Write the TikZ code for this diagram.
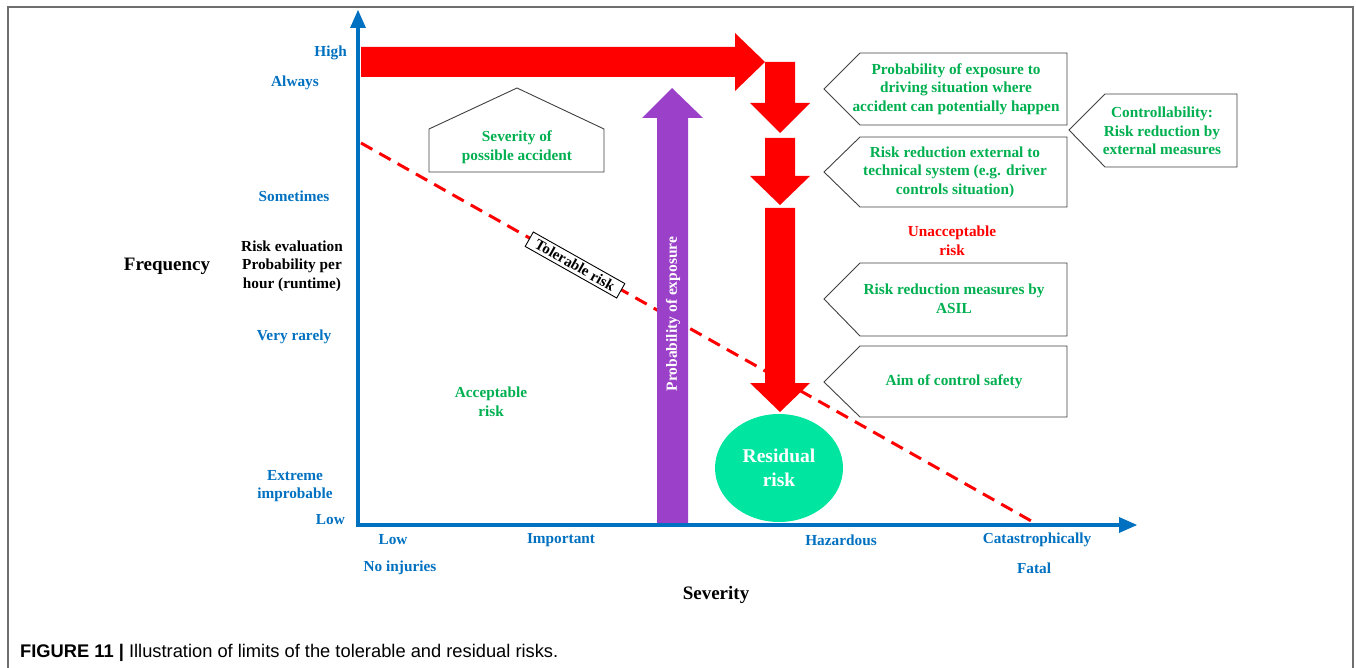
\documentclass[tikz,border=0pt]{standalone}
\usepackage{fontspec}
\usetikzlibrary{shapes.geometric}
\setmainfont{Liberation Serif}
\newfontfamily\capfont{Liberation Sans}
\definecolor{axblue}{RGB}{0,112,192}
\definecolor{tgreen}{RGB}{0,176,80}
\definecolor{purp}{RGB}{155,64,200}
\definecolor{resid}{RGB}{0,230,160}
\definecolor{framegray}{RGB}{110,110,110}
\definecolor{boxgray}{RGB}{64,64,64}
\tikzset{
  lbl/.style={font=\fontsize{15.3}{18.5}\selectfont\bfseries, align=center, inner sep=0pt},
  bluelbl/.style={lbl, text=axblue},
  greenlbl/.style={lbl, text=tgreen},
  blacklbl/.style={lbl, text=black},
  redlbl/.style={lbl, text=red},
  outlinebox/.style={draw=boxgray, line width=0.9pt, fill=white, line join=miter},
  bigred/.style={fill=red, draw=none},
}
\begin{document}
\begin{tikzpicture}[x=1pt,y=-1pt]
\useasboundingbox (0,0) rectangle (1356,668);
% frame
\draw[framegray, line width=1.5pt] (8,672) -- (8,7) -- (1353,7) -- (1353,672);

% tolerable risk line
\coordinate (tolA) at (361,143);
\coordinate (tolB) at (1033,522);
\draw[red, line width=3pt, dash pattern=on 13pt off 8pt] (tolA) -- (tolB);
\node[draw=black, fill=white, line width=0.9pt, rotate=-29.4, inner xsep=8pt, inner ysep=3pt,
      font=\fontsize{15}{17}\selectfont\bfseries] (tol) at (575,265) {Tolerable risk};

% purple arrow
\fill[purp] (657,525) -- (657,118) -- (642,118) -- (672,88) -- (703,118) -- (688,118) -- (688,525) -- cycle;
\node[rotate=90, text=white, font=\fontsize{15.5}{17}\selectfont\bfseries, inner sep=0pt] (pexp) at (673,314) {Probability of exposure};

% red arrows
\fill[bigred] (361,47) -- (735,47) -- (735,33) -- (765,62) -- (735,91) -- (735,77) -- (361,77) -- cycle;
\fill[bigred] (765,62) -- (795,62) -- (795,103) -- (810,103) -- (780,133) -- (750,103) -- (765,103) -- cycle;
\fill[bigred] (765,138) -- (795,138) -- (795,176) -- (810,176) -- (780,205) -- (750,176) -- (765,176) -- cycle;
\fill[bigred] (765,208) -- (795,208) -- (795,383) -- (810,383) -- (780,412) -- (750,383) -- (765,383) -- cycle;

% residual risk
\node[ellipse, fill=resid, minimum width=128pt, minimum height=108pt, inner sep=0pt, align=center,
      text=white, font=\fontsize{19.5}{23.5}\selectfont\bfseries] (resid) at (779,468) {Residual\\risk};

% axes
\coordinate (orig) at (358,525);
\coordinate (ytop) at (358,27);
\coordinate (xend) at (1121,525);
\draw[axblue, line width=3.5pt] (358,527) -- (ytop);
\fill[axblue] (350,28) -- (358,10) -- (366,28) -- cycle;
\draw[axblue, line width=3.5pt] (356,525) -- (xend);
\fill[axblue] (1119,517) -- (1137,525) -- (1119,533) -- cycle;

% severity house box
\draw[outlinebox] (429,172) -- (429,129) -- (517,88) -- (604,129) -- (604,172) -- cycle;
\node[greenlbl] (sev) at (517,147) {Severity of\\possible accident};

% right boxes
\draw[outlinebox] (824,89) -- (860,53) -- (1067,53) -- (1067,125) -- (860,125) -- cycle;
\node[greenlbl] (b1) at (956,89) {Probability of exposure to\\driving situation where\\accident can potentially happen};
\draw[outlinebox] (824,172) -- (860,137) -- (1067,137) -- (1067,207) -- (860,207) -- cycle;
\node[greenlbl] (b2) at (955,172) {Risk reduction external to\\technical system (e.g. driver\\controls situation)};
\draw[outlinebox] (1069,130) -- (1105,94) -- (1237,94) -- (1237,167) -- (1105,167) -- cycle;
\node[greenlbl] (b5) at (1162,131) {Controllability:\\Risk reduction by\\external measures};
\draw[outlinebox] (824,299) -- (860,263) -- (1067,263) -- (1067,336) -- (860,336) -- cycle;
\node[greenlbl] (b3) at (954,299) {Risk reduction measures by\\ASIL};
\draw[outlinebox] (824,382) -- (860,346) -- (1067,346) -- (1067,417) -- (860,417) -- cycle;
\node[greenlbl] (b4) at (954,382) {Aim of control safety};

\node[redlbl] (unacc) at (952,241) {Unacceptable\\risk};
\node[greenlbl] (acc) at (491,402) {Acceptable\\risk};

% y labels
\node[bluelbl, anchor=east] (yhigh) at (347,53) {High};
\node[bluelbl] (yalw) at (295,83) {Always};
\node[bluelbl] (ysom) at (294,196) {Sometimes};
\node[blacklbl] (yrisk) at (292,266) {Risk evaluation\\Probability per\\hour (runtime)};
\node[blacklbl, font=\fontsize{19}{22}\selectfont\bfseries] (yfreq) at (167,266) {Frequency};
\node[bluelbl] (yvr) at (294,337) {Very rarely};
\node[bluelbl] (yext) at (295,486) {Extreme\\improbable};
\node[bluelbl, anchor=east] (ylow) at (345,520) {Low};

% x labels
\node[bluelbl] (xlow) at (393,540) {Low};
\node[bluelbl] (ximp) at (561,540) {Important};
\node[bluelbl] (xhaz) at (841,540) {Hazardous};
\node[bluelbl] (xcat) at (1037,540) {Catastrophically};
\node[bluelbl] (xnoi) at (400,568) {No injuries};
\node[bluelbl] (xfat) at (1034,568) {Fatal};
\node[blacklbl, font=\fontsize{19}{22}\selectfont\bfseries] (xsev) at (716,595) {Severity};

% caption
\node[anchor=base west, inner sep=0pt, font=\capfont\fontsize{18.3}{20}\selectfont] (cap) at (20,657)
  {\textbf{FIGURE 11 |} Illustration of limits of the tolerable and residual risks.};
\end{tikzpicture}
\end{document}
